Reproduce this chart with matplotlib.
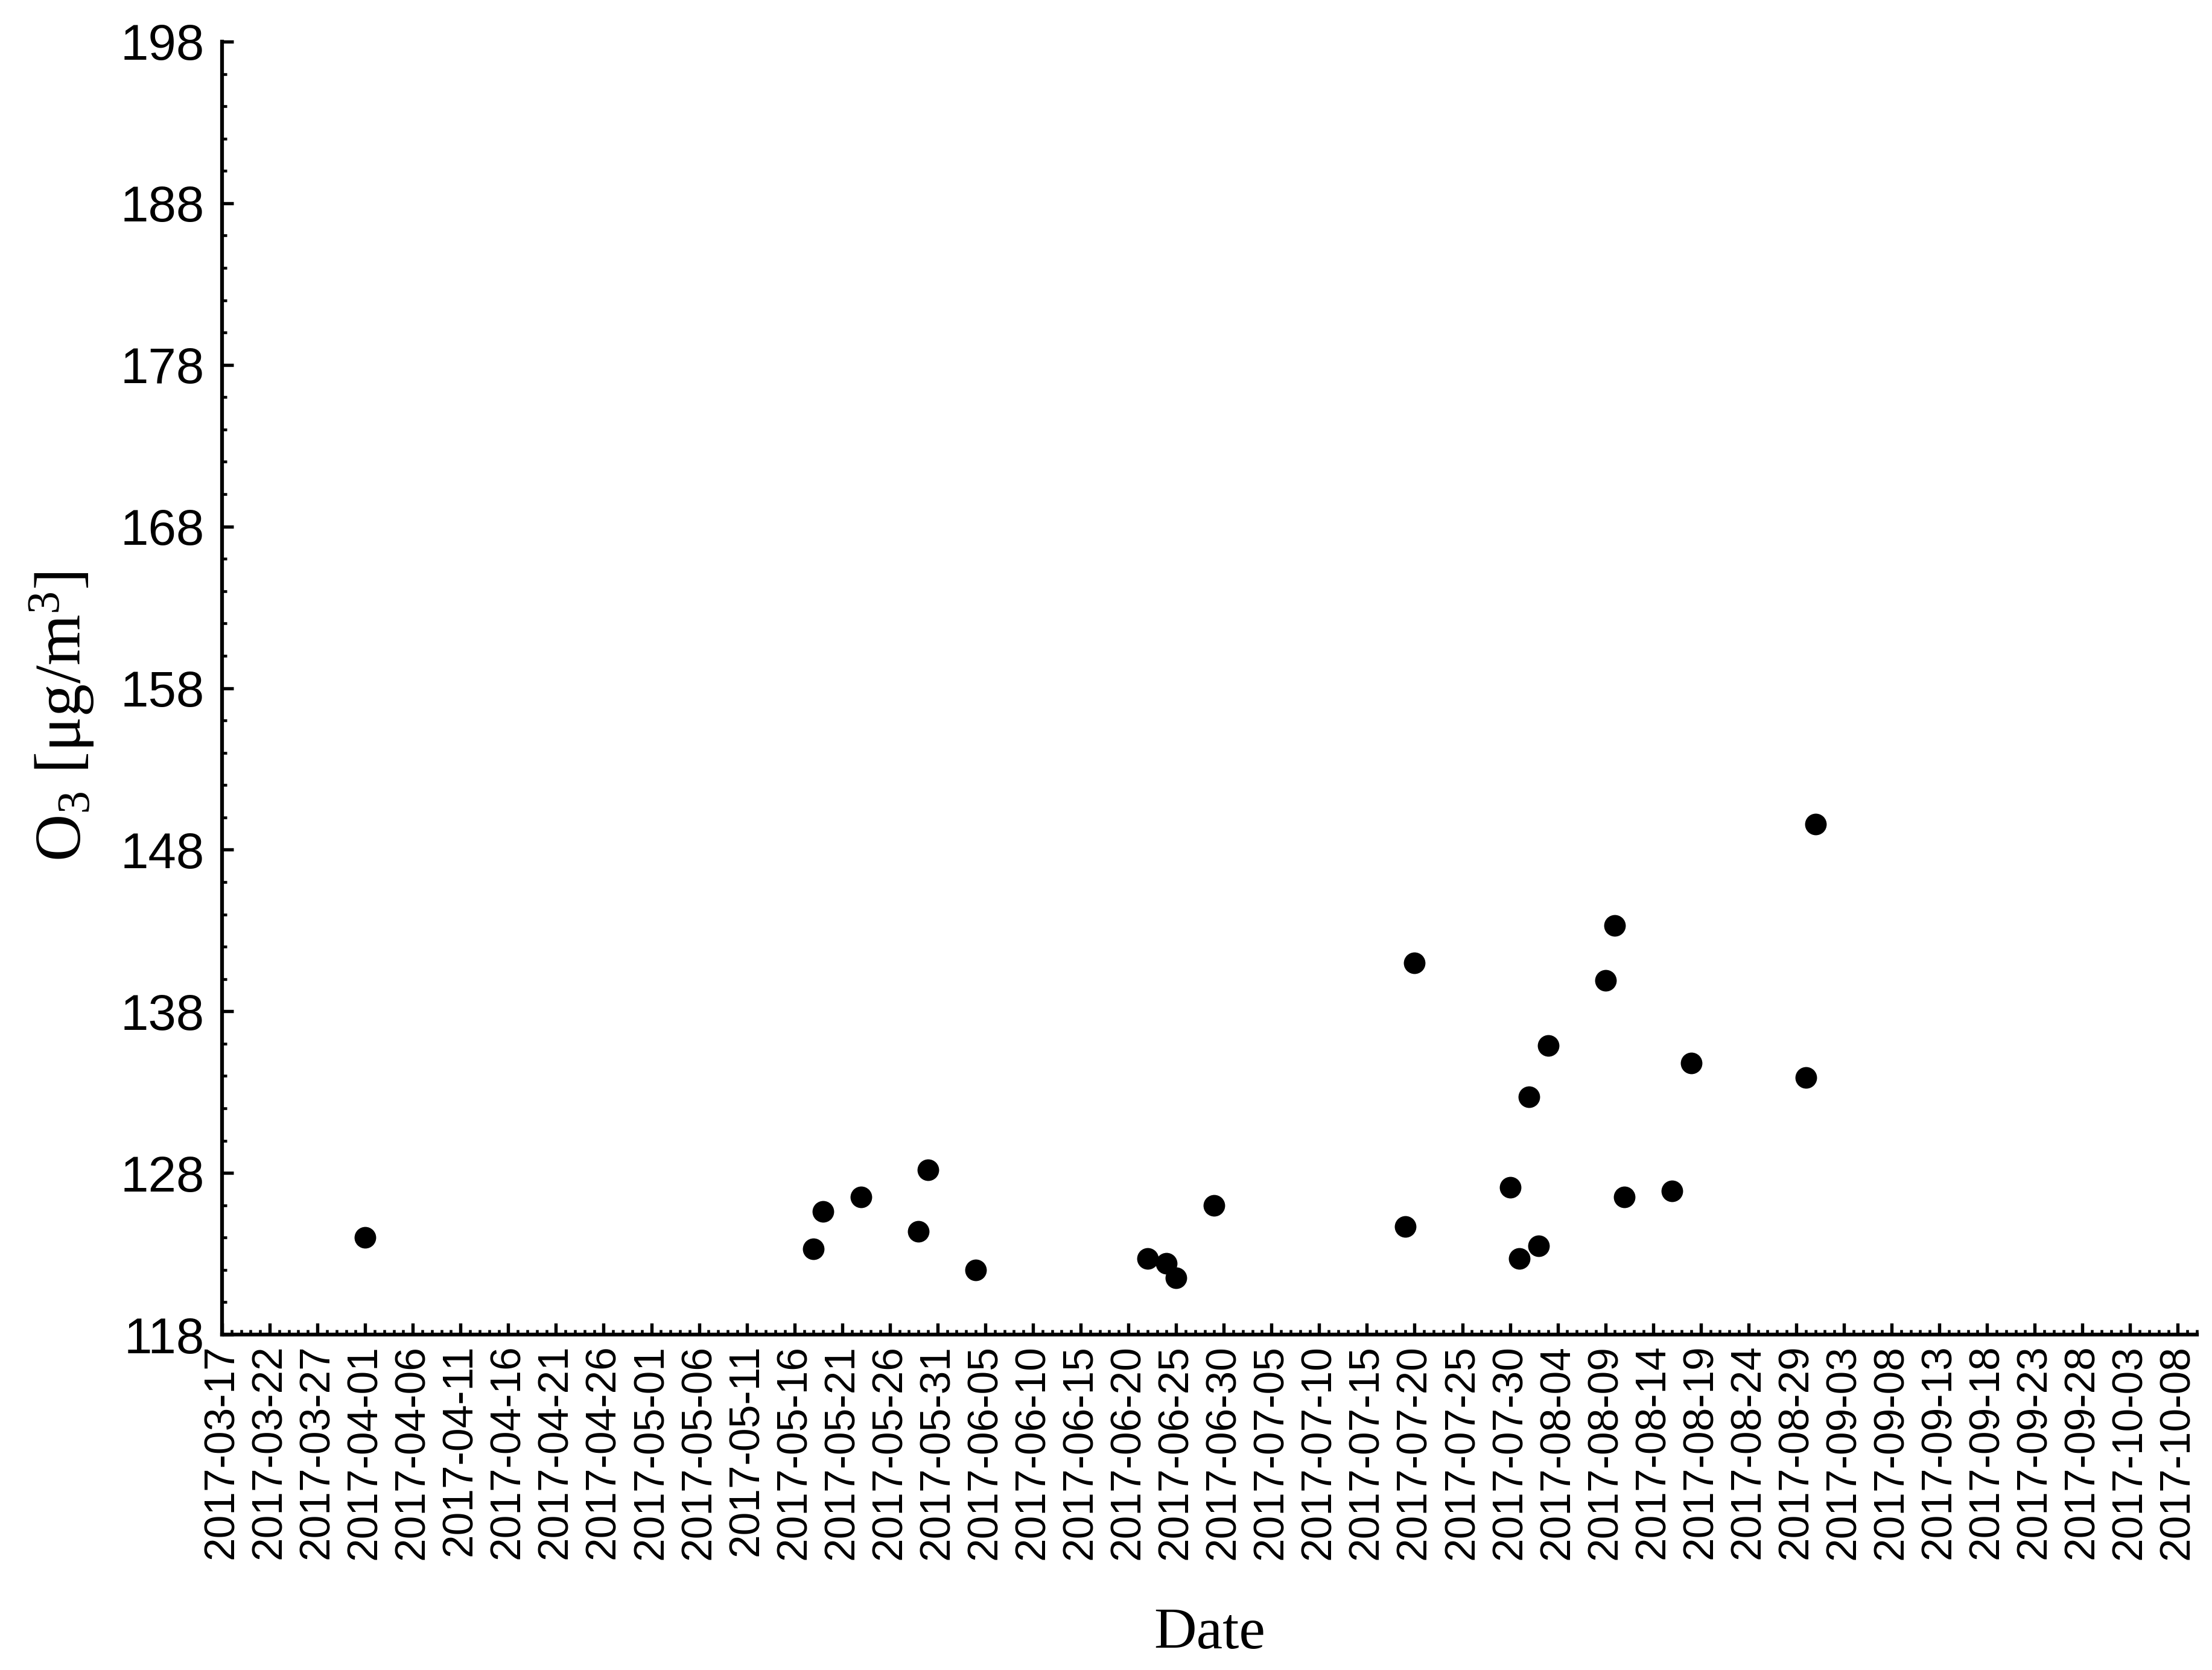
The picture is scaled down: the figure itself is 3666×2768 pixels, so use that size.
import matplotlib
matplotlib.use("Agg")
import matplotlib.pyplot as plt
import matplotlib.dates as mdates
import pandas as pd

# ---- data ----
dates = ["2017-04-01", "2017-05-18", "2017-05-19", "2017-05-23", "2017-05-29",
         "2017-05-30", "2017-06-04", "2017-06-22", "2017-06-24", "2017-06-25",
         "2017-06-29", "2017-07-19", "2017-07-20", "2017-07-30", "2017-07-31",
         "2017-08-01", "2017-08-02", "2017-08-03", "2017-08-09", "2017-08-10",
         "2017-08-11", "2017-08-16", "2017-08-18", "2017-08-30", "2017-08-31"]
o3 = [124.0, 123.3, 125.6, 126.5, 124.4,
      128.2, 122.0, 122.7, 122.4, 121.5,
      126.0, 124.7, 141.0, 127.1, 122.7,
      132.7, 123.5, 135.9, 139.9, 143.3,
      126.5, 126.9, 134.8, 133.9, 149.6]

tick_start = "2017-03-17"
tick_end = "2017-10-08"
tick_step_days = 5
x_limits = ["2017-03-17", "2017-10-10"]
y_limits = [118, 198]
y_major_step = 10
y_minor_step = 2

x = pd.to_datetime(dates)

plt.rcParams["mathtext.fontset"] = "custom"
plt.rcParams["mathtext.rm"] = "Liberation Serif"
plt.rcParams["mathtext.it"] = "Liberation Serif:italic"

fig = plt.figure(figsize=(3666 / 300, 2768 / 300), dpi=300)
ax = fig.add_axes([368 / 3666, 1 - 2212 / 2768, (3641 - 368) / 3666, (2212 - 69) / 2768])

ax.plot(x, o3, linestyle="none", marker="o", markersize=8.6, color="black",
        markeredgewidth=0)

ax.set_xlim(pd.to_datetime(x_limits[0]), pd.to_datetime(x_limits[1]))
ax.set_ylim(*y_limits)

major_ticks = pd.date_range(tick_start, tick_end, freq=f"{tick_step_days}D")
minor_ticks = pd.date_range(x_limits[0], x_limits[1], freq="D")
ax.set_xticks(major_ticks)
ax.set_xticks(minor_ticks, minor=True)
ax.xaxis.set_major_formatter(mdates.DateFormatter("%Y-%m-%d"))

yt = list(range(y_limits[0], y_limits[1] + 1, y_major_step))
ax.set_yticks(yt)
ax.set_yticks(list(range(y_limits[0], y_limits[1] + 1, y_minor_step)), minor=True)

for s in ["top", "right"]:
    ax.spines[s].set_visible(False)
for s in ["left", "bottom"]:
    ax.spines[s].set_linewidth(1.5)

ax.tick_params(which="major", direction="in", length=4.5, width=1.3, color="black")
ax.tick_params(which="minor", direction="in", length=2.0, width=1.1, color="black")
ax.tick_params(axis="y", which="major", pad=7)
ax.tick_params(axis="x", which="major", pad=4)

for lab in ax.get_yticklabels():
    lab.set_fontfamily("Liberation Sans")
    lab.set_fontsize(20)
for lab in ax.get_xticklabels():
    lab.set_fontfamily("Liberation Sans")
    lab.set_fontsize(16.7)
    lab.set_rotation(90)

ax.set_ylabel(r"O$_3$ [μg/m$^3$]", fontfamily="Liberation Serif", fontsize=26)
ax.yaxis.set_label_coords(-0.064, 0.478)
ax.set_xlabel("Date", fontfamily="Liberation Serif", fontsize=23.5, labelpad=19)

fig.savefig("out.png", dpi=300, facecolor="white")
